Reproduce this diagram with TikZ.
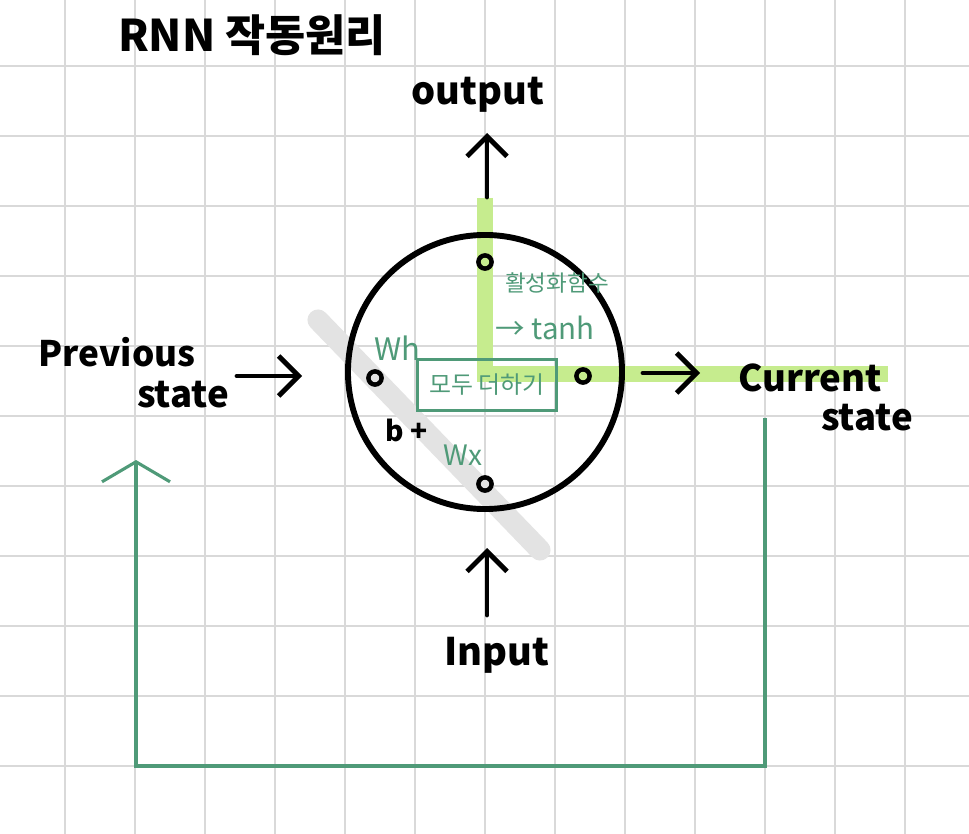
\documentclass[tikz,border=0pt]{standalone}
\usepackage{fontspec}
\setmainfont{Noto Sans CJK KR}
\usetikzlibrary{arrows.meta,positioning}
\definecolor{gridgray}{HTML}{D9D9D9}
\definecolor{notegreen}{HTML}{4F9A78}
\definecolor{hilite}{HTML}{C6EC8E}
\definecolor{shadegray}{HTML}{E3E3E3}

\begin{document}
\begin{tikzpicture}[
  x=0.025cm, y=-0.025cm,
  hand/.style={font=\fontsize{#1}{#1}\selectfont\bfseries, inner sep=0pt},
  note/.style={font=\fontsize{#1}{#1}\selectfont, inner sep=0pt, text=notegreen},
  cell/.style={draw, circle, line width=4.2pt, minimum size=6.85cm},
  port/.style={draw, circle, line width=3.2pt, minimum size=0.33cm, inner sep=0pt},
  arrow/.style={-{Straight Barb[length=5mm,width=10mm]}, line width=3.5pt, line cap=round},
  feedback/.style={-{Straight Barb[length=5mm,width=17mm]}, line width=2.2pt, draw=notegreen},
  marker/.style={line width=11pt, draw=hilite}
]
  \useasboundingbox (0,0) rectangle (969,834);
  \fill[white] (0,0) rectangle (969,834);

  % Grid
  \foreach \x in {65,135,...,905} {
    \draw[gridgray, line width=2pt] (\x,0) -- (\x,834);
  }
  \foreach \y in {66,136,...,766} {
    \draw[gridgray, line width=2pt] (0,\y) -- (969,\y);
  }

  % Highlights
  \draw[shadegray, line width=15pt, line cap=round] (318,320) -- (540,550);
  \draw[marker] (485,198) -- (485,382);
  \draw[marker] (477,374) -- (888,374);

  % Cell and ports
  \node[cell] (cell) at (485,372) {};
  \node[port] (py) at (485,262) {};
  \node[port] (ph) at (375,378) {};
  \node[port] (pc) at (583,376) {};
  \node[port] (px) at (485,484) {};
  \node[draw=notegreen, line width=2pt, minimum width=3.48cm, minimum height=1.28cm,
        note=17pt] (sum) at (487,385) {모두 더하기};

  % Labels
  \node[hand=31pt] (title) at (252,35) {RNN 작동원리};
  \node[hand=27pt] (output) at (478,95) {output};
  \node[hand=27pt] (input) at (497,655) {Input};
  \node[hand=25pt] (prev) at (117,352) {Previous};
  \node[hand=26pt] (prevstate) at (183,395) {state};
  \node[hand=26pt] (curr) at (810,378) {Current};
  \node[hand=26pt] (currstate) at (867,418) {state};
  \node[note=16pt] (act) at (557,283) {활성화함수};
  \node[note=21pt] (tanh) at (545,328) {→ tanh};
  \node[note=22pt] (wh) at (397,348) {Wh};
  \node[note=20pt] (wx) at (463,455) {Wx};
  \node[hand=20pt] (bias) at (407,430) {b +};

  % Arrows
  \coordinate (outtail) at (487,197);
  \coordinate (outhead) at (487,133);
  \coordinate (intail) at (487,615);
  \coordinate (inhead) at (487,548);
  \coordinate (prevtail) at (237,376);
  \coordinate (prevhead) at (302,376);
  \coordinate (currtail) at (643,373);
  \coordinate (currhead) at (700,373);
  \foreach \a/\b in {outtail/outhead, intail/inhead, prevtail/prevhead, currtail/currhead} {
    \draw[arrow] (\a) -- (\b);
  }

  % Feedback loop
  \coordinate (fbstart) at (765,418);
  \coordinate (fbend) at (136,460);
  \draw[feedback] (fbstart) -- ++(0,348) -| (fbend);
\end{tikzpicture}
\end{document}
